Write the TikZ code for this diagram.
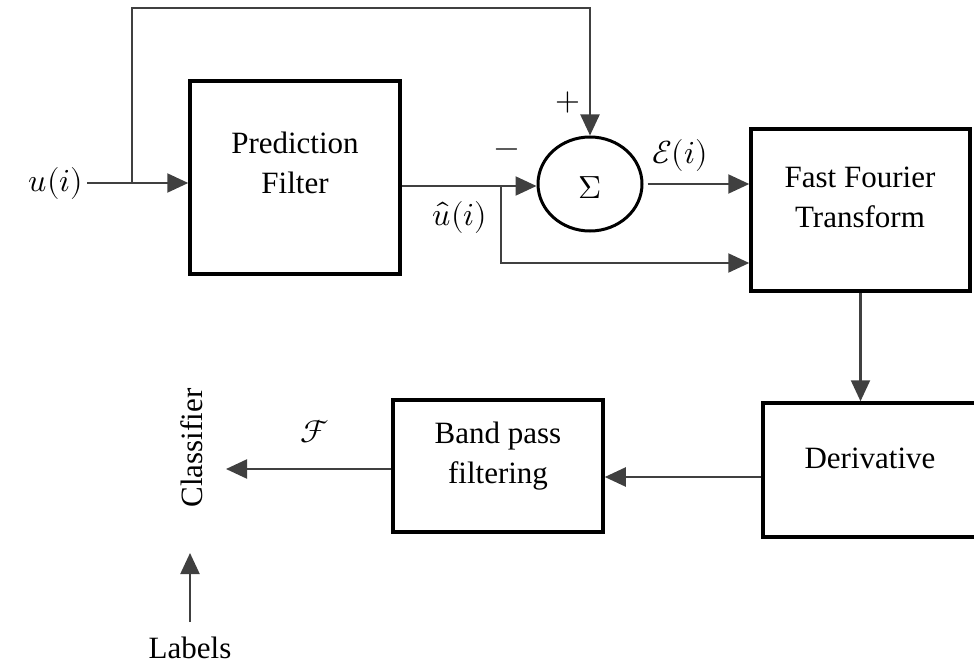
\documentclass[tikz,border=0pt]{standalone}
\usepackage{unicode-math}
\setmainfont{Liberation Serif}
\setmathfont{Latin Modern Math}
\usetikzlibrary{arrows.meta,calc,shapes.geometric}
\begin{document}
\begin{tikzpicture}[x=1pt,y=-1pt,
  box/.style={draw=black,line width=3.5pt,inner sep=0pt},
  txt/.style={font=\fontsize{31}{40}\selectfont,align=center,inner sep=0pt},
  mth/.style={font=\fontsize{32}{40}\selectfont,inner sep=0pt},
  conn/.style={draw=black!75,line width=2.2pt},
  arr/.style={conn,-{Triangle[length=21pt,width=19pt]},black!75}
]
\useasboundingbox (0,0) rectangle (974,666);
% boxes
\node[box,minimum width=210,minimum height=193] (pf) at (295,177.5) {};
\node[txt] (pft) at (295,163) {Prediction\\Filter};
\node[draw=black,line width=3pt,ellipse,minimum width=104,minimum height=94,inner sep=0pt] (sum) at (590,184) {};
\node[mth] (sumt) at (590,188) {$\Sigma$};
\node[box,minimum width=219,minimum height=162] (fft) at (860.5,210) {};
\node[txt] (fftt) at (860,197) {Fast Fourier\\Transform};
\node[box,minimum width=230,minimum height=134] (der) at (878,470) {};
\node[txt] (dert) at (870,458) {Derivative};
\node[box,minimum width=210,minimum height=132] (bpf) at (498,466) {};
\node[txt] (bpft) at (498,456) {Band pass\\filtering};
\node[txt,rotate=90] (cls) at (192,448) {Classifier};
\node[txt] (lab) at (190,648) {Labels};
% labels
\node[mth] (uin) at (56,183) {$u(i)$};
\node[mth] (uhat) at (460,217) {$\hat{u}(i)$};
\node[mth] (eps) at (680,155) {$\mathcal{E}(i)$};
\node[mth] (ff) at (315,432) {$\mathcal{F}$};
\node[mth] (minus) at (507,153) {$-$};
\node[mth] (plus) at (568,103) {$+$};
% coordinates
\coordinate (br1) at (132,182);
\coordinate (top) at (132,8);
\coordinate (br2) at (501,186);
\coordinate (low) at (501,263);
\coordinate (h2) at (0,477);
\coordinate (h3) at (0,469);
\coordinate (clsin) at (226,469);
\coordinate (labtop) at (190,622);
\coordinate (clsbot) at (190,553);
% connectors
\draw[arr] ([xshift=4pt]uin.east) -- (uin.east -| pf.west);
\draw[arr] (br1) -- (top) -| (sum.north);
\draw[arr] (pf.east |- br2) -- (br2 -| sum.west);
\draw[arr] (br2) -- (low) -- (low -| fft.west);
\draw[arr] ([xshift=4pt]sum.east) -- (sum.east -| fft.west);
\draw[arr] (fft.south) -- (fft.south |- der.north);
\draw[arr] (h2 -| der.west) -- (h2 -| bpf.east);
\draw[arr] (h3 -| bpf.west) -- (clsin);
\draw[arr] (labtop) -- (clsbot);
\end{tikzpicture}
\end{document}
